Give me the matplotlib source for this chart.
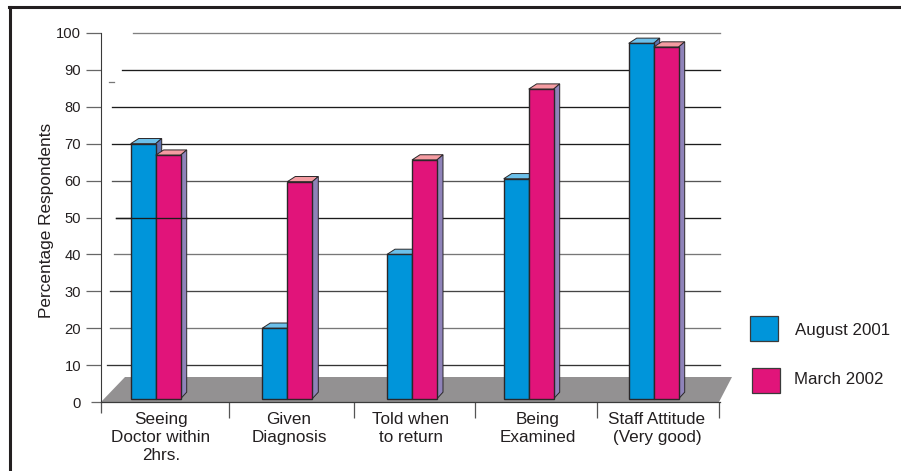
"""Patient survey results as a pseudo-3D grouped bar chart."""

import matplotlib

matplotlib.use("Agg")
import matplotlib.pyplot as plt
from matplotlib.lines import Line2D
from matplotlib.patches import Polygon, Rectangle

plt.rcParams["font.family"] = ["Liberation Sans", "DejaVu Sans"]

categories = [
    "Seeing\nDoctor within\n2hrs.",
    "Given\nDiagnosis",
    "Told when\nto return",
    "Being\nExamined",
    "Staff Attitude\n(Very good)",
]
august_2001 = [70, 20, 40, 60.5, 97.2]
march_2002 = [66.9, 59.7, 65.6, 84.8, 96.2]
series_names = ["August 2001", "March 2002"]
y_ticks = [0, 10, 20, 30, 40, 50, 60, 70, 80, 90, 100]

BLUE, BLUE_TOP, BLUE_SIDE = "#0095da", "#6cc0ea", "#5f72ae"
PINK, PINK_TOP, PINK_SIDE = "#e1147a", "#f49ca2", "#8f83b9"
EDGE = "#2b2729"
TEXT = "#231f20"

WIDTH, HEIGHT = 901, 471
X0, X1, Y_BASE, Y_TOP = 101, 720, 402, 33
PER_UNIT = (Y_BASE - Y_TOP) / 100


def y_at(px):
    """Convert a distance from the image top into a y-axis value."""
    return (Y_BASE - px) / PER_UNIT


fig = plt.figure(figsize=(WIDTH / 100, HEIGHT / 100), dpi=100, facecolor="white")
ax = fig.add_axes(
    [X0 / WIDTH, 1 - Y_BASE / HEIGHT, (X1 - X0) / WIDTH, (Y_BASE - Y_TOP) / HEIGHT]
)
ax.set_xlim(X0, X1)
ax.set_ylim(0, 100)
for side in ("top", "right"):
    ax.spines[side].set_visible(False)
ax.spines["left"].set_color("#3a3a3a")
ax.spines["left"].set_linewidth(0.8)
ax.spines["bottom"].set_color("#3a3a3a")
ax.spines["bottom"].set_linewidth(0.9)

# outer frame, open at the right and bottom
fig.add_artist(Line2D([9.5 / WIDTH, 9.5 / WIDTH], [0, 1 - 7 / HEIGHT], color="#231f20", lw=2.2))
fig.add_artist(Line2D([8.5 / WIDTH, 1], [1 - 7 / HEIGHT] * 2, color="#231f20", lw=2.2))

# wall lines start at uneven offsets from the axis
grid_starts = [107, 110, 110, 114, 116, 112, 112, 112, 122, 133]
grid_colors = ["#333333", "#777777", "#444444", "#777777", "#1c1c1c", "#555555",
               "#1c1c1c", "#1c1c1c", "#1c1c1c", "#808080"]
for value, start, color in zip(y_ticks[1:], grid_starts, grid_colors):
    ax.plot([start, 720], [value, value], color=color, lw=0.95, zorder=1, clip_on=False)
ax.plot([109, 114], [y_at(82), y_at(82)], color="#777777", lw=0.9, zorder=1, clip_on=False)

# floor
ax.add_patch(
    Polygon(
        [(X0, 0), (125, y_at(377)), (732, y_at(377)), (719, 0)],
        closed=True, facecolor="#939192", edgecolor="none", zorder=2, clip_on=False,
    )
)

group_lefts = [130.7, 262.3, 387, 503.7, 628.7]
BAR_W = 25
DEPTH_X, DEPTH_Y = 6, 5.2 / PER_UNIT
BACK_LEFT_X = 8
BASE_RISE = 6.5 / PER_UNIT
BAR_FLOOR = 0.9


def draw_bar(left, value, front, top, side, z):
    ax.bar(
        left, value - BAR_FLOOR, width=BAR_W, bottom=BAR_FLOOR, align="edge",
        color=front, edgecolor=EDGE, linewidth=1.0, zorder=z + 1,
    )
    right = left + BAR_W
    ax.add_patch(
        Polygon(
            [(left, value), (left + BACK_LEFT_X, value + DEPTH_Y),
             (right + DEPTH_X, value + DEPTH_Y), (right, value)],
            closed=True, facecolor=top, edgecolor=EDGE, linewidth=0.7, zorder=z, clip_on=False,
        )
    )
    ax.add_patch(
        Polygon(
            [(right, BAR_FLOOR), (right + DEPTH_X, BAR_FLOOR + BASE_RISE),
             (right + DEPTH_X, value + DEPTH_Y), (right, value)],
            closed=True, facecolor=side, edgecolor=EDGE, linewidth=0.7, zorder=z, clip_on=False,
        )
    )


for left, blue, pink in zip(group_lefts, august_2001, march_2002):
    draw_bar(left, blue, BLUE, BLUE_TOP, BLUE_SIDE, 3)
    draw_bar(left + BAR_W, pink, PINK, PINK_TOP, PINK_SIDE, 5)

# the 50 line runs in front of the first pair of bars
ax.plot([116, group_lefts[0] + 2 * BAR_W + DEPTH_X], [50, 50], color="#1c1c1c", lw=0.95, zorder=8)

# y axis
ax.set_yticks(y_ticks)
ax.tick_params(axis="y", length=10.8, width=0.9, color="#666666", pad=3.6,
               labelsize=10.6, labelcolor=TEXT)
ax.yaxis.get_major_ticks()[0].tick1line.set_markersize(7.2)
ax.set_ylabel("Percentage Respondents", fontsize=12.4, color=TEXT)
ax.yaxis.set_label_coords((54 - X0) / (X1 - X0), 0.493)

# x axis: separators as major ticks, category names on minor ticks
ax.set_xticks([101, 229, 354, 475, 597, 719])
ax.set_xticklabels([])
ax.tick_params(axis="x", which="major", length=11.5, width=0.9, color="#555555")
ax.xaxis.get_major_ticks()[0].tick1line.set_markersize(8)
ax.set_xticks([161, 289, 411, 538, 657], minor=True)
ax.set_xticklabels(categories, minor=True, fontsize=12.3, color=TEXT, linespacing=1.235)
ax.tick_params(axis="x", which="minor", length=0, pad=7.5)

# legend
legend_boxes = [(750, 316), (752, 368)]
legend_text = [(795, 330), (794, 380)]
for (bx, by), (tx, ty), color, name in zip(legend_boxes, legend_text, (BLUE, PINK), series_names):
    ax.add_patch(
        Rectangle((bx, y_at(by + 25)), 28, 25 / PER_UNIT, facecolor=color,
                  edgecolor="#3a3a3a", linewidth=0.9, clip_on=False)
    )
    ax.text(tx, y_at(ty), name, fontsize=12.2, color=TEXT, va="center", ha="left", clip_on=False)

fig.savefig("out.png", dpi=100)
plt.close(fig)
